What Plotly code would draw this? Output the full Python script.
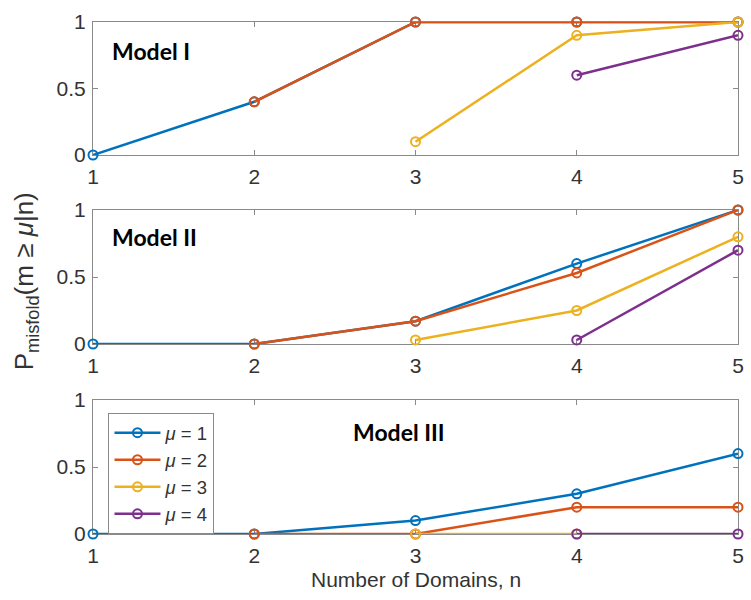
import plotly.graph_objects as go

n = [1, 2, 3, 4, 5]
mu_labels = ["<i>μ</i> = 1", "<i>μ</i> = 2", "<i>μ</i> = 3", "<i>μ</i> = 4"]
colors = ["#0072BD", "#D95319", "#EDB120", "#7E2F8E"]

# Model I
m1_mu1 = [0, 0.4, 1, 1, 1]
m1_mu2 = [None, 0.4, 1, 1, 1]
m1_mu3 = [None, None, 0.1, 0.9, 1]
m1_mu4 = [None, None, None, 0.6, 0.9]
# Model II
m2_mu1 = [0, 0, 0.17, 0.6, 1]
m2_mu2 = [None, 0, 0.17, 0.53, 1]
m2_mu3 = [None, None, 0.03, 0.25, 0.8]
m2_mu4 = [None, None, None, 0.03, 0.7]
# Model III
m3_mu1 = [0, 0, 0.1, 0.3, 0.6]
m3_mu2 = [None, 0, 0, 0.2, 0.2]
m3_mu3 = [None, None, 0, 0, None]
m3_mu4 = [None, None, None, 0, 0]

models = [
    ("Model I", [m1_mu1, m1_mu2, m1_mu3, m1_mu4]),
    ("Model II", [m2_mu1, m2_mu2, m2_mu3, m2_mu4]),
    ("Model III", [m3_mu1, m3_mu2, m3_mu3, m3_mu4]),
]

W, H = 751, 600
mt, mb, ml, mr = 22, 66, 93, 7
ph = H - mt - mb
def frac(ytop, ybot):
    return [(H - mb - ybot) / ph, (H - mb - ytop) / ph]
domains = [frac(22, 155), frac(210, 344), frac(400, 534)]

fig = go.Figure()
for i, (name, series) in enumerate(models):
    ax = "" if i == 0 else str(i + 1)
    for j, ys in enumerate(series):
        xs = [x for x, y in zip(n, ys) if y is not None]
        yv = [y for y in ys if y is not None]
        fig.add_trace(go.Scatter(
            x=xs, y=yv, mode="lines+markers",
            line=dict(color=colors[j], width=2.5),
            marker=dict(symbol="circle-open", size=9, color=colors[j], line=dict(width=2)),
            name=mu_labels[j], showlegend=(i == 2), legendgroup=str(j),
            xaxis="x" + ax, yaxis="y" + ax, cliponaxis=False,
        ))

axis_common = dict(
    showline=True, linecolor="#8a8a8a", linewidth=1, mirror="ticks",
    ticks="inside", ticklen=5, tickcolor="#8a8a8a", showgrid=False, zeroline=False,
    layer="below traces",
    tickfont=dict(family="Liberation Sans, Arial", size=21, color="#333333"),
)
layout = {}
for i in range(3):
    ax = "" if i == 0 else str(i + 1)
    layout["xaxis" + ax] = dict(axis_common, range=[1, 5], tickvals=[1, 2, 3, 4, 5],
                                anchor="y" + ax, domain=[0, 1], ticklabelstandoff=3)
    layout["yaxis" + ax] = dict(axis_common, range=[0, 1], tickvals=[0, 0.5, 1],
                                ticktext=["0", "0.5", "1"],
                                anchor="x" + ax, domain=domains[i], ticklabelstandoff=2)
fig.update_layout(**layout)

ann_font = dict(family="Lato, Open Sans", size=23, color="black")
fig.add_annotation(text="<b>Model I</b>", xref="x", yref="y", x=1.105, y=0.78,
                   xanchor="left", showarrow=False, font=ann_font)
fig.add_annotation(text="<b>Model II</b>", xref="x2", yref="y2", x=1.105, y=0.8,
                   xanchor="left", showarrow=False, font=ann_font)
fig.add_annotation(text="<b>Model III</b>", xref="x3", yref="y3", x=2.6, y=0.76,
                   xanchor="left", showarrow=False, font=ann_font)

fig.add_annotation(text="Number of Domains, n", xref="paper", yref="paper",
                   x=0.5, y=-0.115, showarrow=False, xanchor="center", yanchor="bottom",
                   font=dict(family="Liberation Sans, Arial", size=21, color="#333333"))
fig.add_annotation(text="P<sub>misfold</sub>(m ≥ <i>μ</i>|n)", xref="paper", yref="paper",
                   x=-0.105, y=0.494, textangle=-90, showarrow=False,
                   xanchor="center", yanchor="middle",
                   font=dict(family="Liberation Sans, Arial", size=26, color="#333333"))

fig.update_layout(
    width=W, height=H, margin=dict(l=ml, r=mr, t=mt, b=mb),
    plot_bgcolor="white", paper_bgcolor="white",
    legend=dict(x=0.024, y=0.236, xanchor="left", yanchor="top",
                bordercolor="#8a8a8a", borderwidth=1, bgcolor="white",
                font=dict(family="Liberation Sans, Arial", size=18.5, color="#333333"),
                tracegroupgap=0, itemwidth=46),
)

fig.write_html("out.html")
